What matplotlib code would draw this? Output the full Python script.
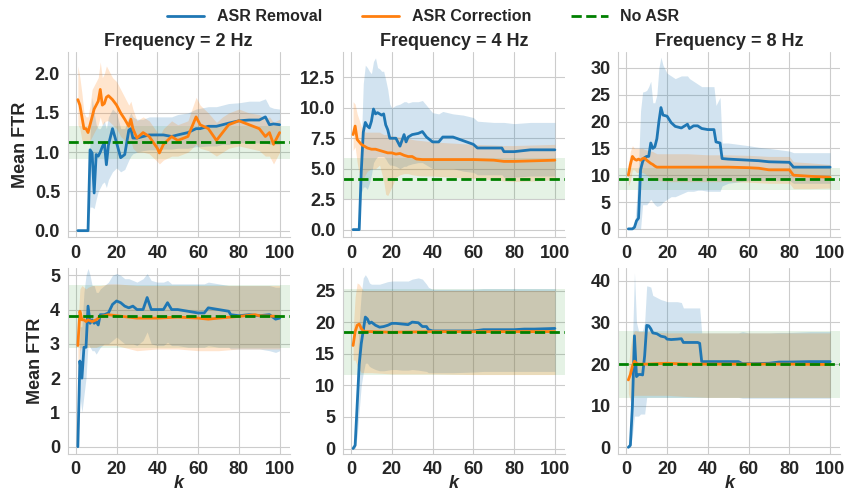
import numpy as np
import matplotlib
matplotlib.use("Agg")
import matplotlib.pyplot as plt
import seaborn as sns

sns.set_style("whitegrid")
plt.rcParams['font.family'] = ['Liberation Sans', 'DejaVu Sans']

# ── data ──────────────────────────────────────────────────────────────────────
titles = ["Frequency = 2 Hz", "Frequency = 4 Hz", "Frequency = 8 Hz"]
series_names = ["ASR Removal", "ASR Correction", "No ASR"]

# row 1, 2 Hz
k_rem_a = [1, 2, 3, 4, 5, 6, 7, 8, 9, 10, 11, 12, 13, 14, 15, 16, 18, 20, 22, 24, 26, 27, 28, 30, 33, 36,
           40, 43, 47, 50, 55, 59, 61, 65, 69, 72, 75, 80, 85, 90, 93, 95, 97, 100]
rem_a = [0, 0, 0, 0, 0, 0, 1.03, 0.99, 0.48, 0.97, 0.95, 1.0, 1.07, 1.12, 0.84, 1.09, 1.3, 1.12, 0.93, 0.97,
         1.28, 1.3, 1.18, 1.18, 1.2, 1.22, 1.22, 1.22, 1.2, 1.22, 1.25, 1.3, 1.3, 1.33, 1.33, 1.35, 1.37, 1.4,
         1.41, 1.41, 1.45, 1.35, 1.36, 1.35]
rem_lo_a = [0, 0, 0, 0, 0, 0, 0.3, 0.3, 0.28, 0.4, 0.5, 0.55, 0.6, 0.62, 0.55, 0.65, 0.75, 0.8, 0.75, 0.78,
            0.9, 0.95, 0.98, 1.0, 1.02, 1.03, 1.03, 1.04, 1.04, 1.05, 1.05, 1.07, 1.07, 1.08, 1.08, 1.1, 1.1,
            1.12, 1.12, 1.12, 1.12, 1.1, 1.1, 1.1]
rem_hi_a = [0, 0, 0, 0, 0, 0, 1.2, 1.7, 1.5, 1.35, 1.3, 1.3, 1.35, 1.4, 1.3, 1.45, 1.55, 1.5, 1.3, 1.3,
            1.45, 1.5, 1.45, 1.42, 1.42, 1.45, 1.45, 1.45, 1.45, 1.48, 1.5, 1.55, 1.56, 1.58, 1.58, 1.6, 1.62,
            1.63, 1.65, 1.65, 1.68, 1.58, 1.56, 1.55]
k_cor_a = [1, 2, 3, 4, 5, 6, 7, 8, 9, 10, 11, 12, 13, 14, 15, 16, 18, 20, 22, 24, 26, 27, 28, 30, 33, 36,
           40, 41, 43, 47, 50, 55, 59, 61, 65, 69, 72, 75, 80, 85, 90, 93, 95, 97, 100]
cor_a = [1.67, 1.6, 1.45, 1.3, 1.3, 1.25, 1.35, 1.45, 1.55, 1.6, 1.65, 1.8, 1.6, 1.62, 1.7, 1.72, 1.67, 1.6,
         1.5, 1.42, 1.33, 1.42, 1.3, 1.18, 1.25, 1.2, 1.05, 0.99, 1.1, 1.2, 1.15, 1.2, 1.45, 1.35, 1.3, 1.15,
         1.25, 1.35, 1.4, 1.35, 1.3, 1.2, 1.25, 1.1, 1.25]
cor_lo_a = [1.35, 1.3, 1.15, 1.1, 1.12, 1.1, 1.15, 1.2, 1.25, 1.3, 1.35, 1.45, 1.35, 1.38, 1.4, 1.4, 1.35,
            1.3, 1.2, 1.15, 1.1, 1.15, 1.05, 1.0, 1.0, 0.98, 0.88, 0.85, 0.9, 0.95, 0.95, 1.0, 1.1, 1.05,
            1.02, 0.95, 1.0, 1.05, 1.08, 1.05, 1.02, 0.95, 0.95, 0.85, 1.0]
cor_hi_a = [2.1, 1.95, 1.75, 1.5, 1.45, 1.45, 1.6, 1.8, 1.85, 1.9, 1.95, 2.15, 1.95, 2.0, 2.1, 2.05, 1.95,
            1.9, 1.8, 1.7, 1.6, 1.65, 1.55, 1.4, 1.45, 1.4, 1.25, 1.2, 1.3, 1.4, 1.35, 1.4, 1.7, 1.6, 1.5,
            1.38, 1.45, 1.5, 1.55, 1.5, 1.48, 1.42, 1.45, 1.38, 1.42]

# row 1, 4 Hz
k_rem_b = [1, 2, 3, 4, 5, 6, 7, 8, 9, 10, 11, 12, 13, 14, 15, 16, 17, 18, 19, 20, 22, 24, 26, 27, 28, 30,
           33, 35, 37, 40, 43, 45, 50, 55, 60, 62, 70, 74, 75, 80, 88, 100]
rem_b = [0, 0, 0, 0, 4.75, 8.0, 8.8, 8.5, 8.35, 8.9, 9.9, 9.5, 9.6, 9.5, 9.4, 9.5, 8.6, 8.2, 7.5, 7.5,
         7.5, 6.85, 7.8, 7.2, 7.6, 7.8, 7.9, 8.05, 7.6, 7.2, 7.2, 7.6, 7.6, 7.3, 7.0, 6.7, 6.7, 6.7, 6.4,
         6.4, 6.55, 6.55]
rem_lo_b = [0, 0, 0, 0, 3.0, 3.5, 3.5, 3.3, 3.8, 4.5, 5.5, 5.8, 6.0, 6.0, 6.0, 6.0, 5.8, 5.5, 5.3, 5.3,
            5.2, 5.0, 5.2, 5.2, 5.3, 5.4, 5.5, 5.5, 5.3, 5.0, 5.0, 5.0, 5.0, 4.8, 4.7, 4.5, 4.5, 4.5, 4.3,
            4.3, 4.4, 4.4]
rem_hi_b = [0, 0, 0, 0, 7.0, 12.0, 13.5, 13.3, 13.0, 12.8, 13.8, 14.1, 13.3, 13.2, 13.0, 13.0, 12.3,
            11.5, 10.3, 10.0, 10.2, 10.3, 10.5, 10.5, 10.4, 10.5, 10.5, 10.6, 10.2, 9.6, 9.5, 9.7, 9.5,
            9.4, 9.2, 8.9, 8.8, 8.8, 8.8, 8.7, 8.8, 8.8]
k_cor_b = [1, 2, 3, 4, 5, 6, 7, 8, 10, 12, 14, 16, 17, 18, 20, 22, 24, 26, 28, 30, 32, 35, 40, 50, 60,
           70, 75, 80, 90, 100]
cor_b = [7.8, 8.5, 7.4, 7.2, 7.0, 6.9, 6.8, 6.7, 6.6, 6.6, 6.5, 6.4, 6.35, 6.3, 6.3, 6.2, 6.25, 6.1, 6.0,
         6.0, 5.8, 5.75, 5.75, 5.75, 5.75, 5.7, 5.6, 5.6, 5.65, 5.7]
cor_lo_b = [6.5, 6.8, 5.5, 4.5, 4.0, 4.2, 4.5, 4.8, 5.0, 5.0, 5.3, 4.0, 2.9, 2.8, 3.5, 4.3, 4.5, 4.6,
            4.6, 4.5, 4.45, 4.4, 4.4, 4.3, 4.2, 4.1, 4.0, 3.95, 4.0, 4.1]
cor_hi_b = [10.5, 10.3, 9.5, 9.0, 8.5, 8.3, 8.0, 8.0, 8.0, 8.0, 8.0, 7.8, 7.8, 7.8, 7.7, 7.65, 7.6, 7.55,
            7.5, 7.4, 7.35, 7.3, 7.2, 7.1, 7.0, 6.95, 6.9, 6.9, 6.95, 7.0]

# row 1, 8 Hz
k_rem_c = [1, 2, 3, 4, 5, 6, 7, 8, 9, 10, 11, 12, 13, 14, 15, 16, 17, 18, 20, 22, 24, 27, 30, 31, 33, 35,
           37, 40, 43, 44, 46, 47, 50, 60, 65, 70, 80, 82, 90, 100]
rem_c = [0, 0, 0, 0.3, 1.5, 2.0, 11.0, 12.5, 13.3, 13.5, 13.5, 16.0, 15.0, 15.3, 16.8, 20.0, 22.6, 21.2,
         21.0, 19.8, 19.1, 18.8, 19.5, 18.7, 19.2, 19.2, 18.7, 18.5, 18.5, 16.2, 16.0, 13.1, 13.0, 12.8,
         12.7, 12.5, 12.4, 11.5, 11.5, 11.5]
rem_lo_c = [0, 0, 0, 0, 0, 0, 0, 4.5, 4.5, 4.5, 5.0, 5.5, 5.0, 4.5, 4.2, 4.3, 4.5, 5.0, 5.5, 6.0, 6.0,
            6.5, 7.0, 7.0, 7.0, 7.2, 7.2, 7.0, 7.0, 7.0, 7.0, 8.0, 8.5, 9.0, 9.0, 9.0, 9.0, 8.5, 8.5, 8.5]
rem_hi_c = [0, 0, 0, 0.3, 5.0, 12.0, 22.0, 25.5, 25.6, 25.8, 26.5, 27.5, 23.5, 23.5, 25.0, 30.0, 32.0,
            30.5, 29.0, 28.5, 28.0, 28.5, 28.5, 28.0, 27.5, 27.0, 26.5, 26.5, 26.5, 23.0, 24.5, 16.0, 16.0,
            15.5, 15.2, 15.0, 14.5, 14.2, 14.2, 14.2]
k_cor_c = [1, 2, 3, 4, 5, 6, 7, 8, 9, 10, 11, 12, 13, 14, 15, 16, 18, 20, 30, 40, 50, 60, 65, 70, 80, 82,
           90, 100]
cor_c = [10.0, 12.0, 13.5, 13.0, 12.8, 13.0, 12.8, 13.1, 13.2, 12.8, 12.5, 12.2, 12.0, 11.7, 11.5, 11.5,
         11.5, 11.5, 11.5, 11.5, 11.5, 11.4, 11.3, 11.0, 11.0, 10.0, 9.8, 9.6]
cor_lo_c = [8.0, 9.0, 11.0, 11.0, 10.5, 10.5, 10.5, 10.5, 10.3, 10.0, 9.8, 9.5, 9.4, 9.2, 9.0, 9.0, 8.9,
            8.8, 8.8, 8.8, 8.8, 8.7, 8.6, 8.5, 8.5, 7.5, 7.5, 7.6]
cor_hi_c = [12.0, 14.5, 15.5, 15.0, 15.0, 15.0, 15.0, 15.0, 14.8, 14.7, 14.6, 14.5, 14.4, 14.2, 14.0,
            14.0, 14.0, 14.0, 14.0, 13.8, 13.8, 13.7, 13.6, 13.5, 13.5, 12.5, 12.3, 12.0]

# row 2, 2 Hz
k_rem_d = [1, 2, 3, 4, 5, 6, 7, 8, 9, 10, 11, 12, 14, 16, 18, 20, 22, 24, 26, 28, 30, 33, 35, 37, 40, 43,
           45, 47, 50, 55, 60, 63, 65, 70, 75, 76, 80, 85, 90, 95, 98, 100]
rem_d = [0, 2.5, 2.0, 2.9, 2.9, 4.1, 3.6, 3.7, 3.6, 3.65, 3.55, 3.85, 3.85, 3.9, 4.15, 4.25, 4.2, 4.1,
         4.05, 4.1, 4.0, 4.0, 4.35, 4.0, 4.0, 4.0, 4.2, 4.0, 4.0, 3.95, 3.9, 3.9, 4.05, 4.0, 3.95, 3.85,
         3.82, 3.85, 3.82, 3.85, 3.72, 3.75]
rem_lo_d = [0, 1.5, 1.0, 1.5, 2.0, 3.0, 2.9, 2.8, 2.8, 2.7, 2.8, 2.9, 3.0, 3.0, 3.1, 3.2, 3.1, 3.0, 3.0,
            3.0, 2.95, 3.1, 3.35, 3.0, 2.95, 2.95, 3.05, 2.95, 2.95, 2.9, 2.9, 2.9, 2.95, 2.9, 2.9, 2.85,
            2.85, 2.85, 2.85, 2.8, 2.75, 2.8]
rem_hi_d = [0, 3.5, 3.5, 4.5, 5.0, 5.2, 5.0, 4.7, 4.7, 4.5, 4.5, 4.6, 4.7, 4.8, 5.0, 5.05, 5.0, 4.9, 4.9,
            4.85, 4.8, 4.9, 5.05, 4.85, 4.8, 4.8, 4.85, 4.75, 4.75, 4.75, 4.75, 4.75, 4.8, 4.75, 4.7, 4.7,
            4.7, 4.7, 4.7, 4.7, 4.65, 4.65]
k_cor_d = [1, 2, 3, 4, 5, 6, 8, 10, 12, 14, 16, 20, 30, 40, 50, 60, 65, 70, 80, 88, 90, 100]
cor_d = [2.95, 3.95, 3.7, 3.7, 3.65, 3.7, 3.65, 3.7, 3.8, 3.82, 3.85, 3.82, 3.75, 3.75, 3.78, 3.75, 3.72,
         3.75, 3.8, 3.85, 3.82, 3.8]
cor_lo_d = [2.0, 2.8, 2.9, 2.9, 2.9, 2.9, 2.9, 2.9, 2.95, 2.95, 2.95, 2.95, 2.8, 2.85, 2.85, 2.8, 2.8,
            2.8, 2.85, 2.85, 2.85, 2.85]
cor_hi_d = [3.5, 4.6, 4.7, 4.65, 4.6, 4.65, 4.7, 4.7, 4.7, 4.72, 4.75, 4.75, 4.7, 4.7, 4.7, 4.7, 4.7,
            4.7, 4.7, 4.7, 4.7, 4.7]

# row 2, 4 Hz
k_rem_e = [1, 2, 3, 4, 5, 6, 7, 8, 9, 10, 12, 14, 16, 18, 20, 22, 25, 28, 30, 33, 35, 37, 38, 40, 50, 60,
           65, 70, 80, 85, 90, 100]
rem_e = [0, 0.5, 6.9, 13.3, 16.6, 18.7, 20.8, 20.5, 19.8, 20.0, 19.5, 19.2, 19.3, 19.5, 19.8, 19.8, 19.7,
         19.6, 20.0, 19.9, 19.3, 19.3, 18.8, 18.6, 18.6, 18.6, 18.8, 18.8, 18.8, 18.9, 18.9, 19.0]
rem_lo_e = [0, 0, 2.0, 6.0, 10.0, 12.0, 13.5, 13.5, 13.0, 12.8, 12.5, 12.3, 12.3, 12.4, 12.5, 12.5,
            12.4, 12.4, 12.5, 12.4, 12.3, 12.2, 12.0, 12.0, 12.0, 12.1, 12.2, 12.2, 12.2, 12.2, 12.2, 12.2]
rem_hi_e = [0, 1.0, 12.0, 20.0, 24.5, 27.0, 27.5, 27.0, 26.2, 26.0, 26.0, 26.0, 26.2, 26.4, 26.5, 26.5,
            26.5, 26.5, 26.8, 27.0, 26.8, 26.0, 25.5, 25.2, 25.2, 25.2, 25.3, 25.3, 25.3, 25.3, 25.3, 25.3]
k_cor_e = [1, 2, 3, 4, 5, 6, 7, 10, 20, 40, 60, 80, 100]
cor_e = [16.3, 18.5, 19.5, 19.7, 19.0, 18.6, 18.5, 18.5, 18.4, 18.5, 18.5, 18.5, 18.5]
cor_lo_e = [14.0, 14.0, 13.0, 12.5, 12.0, 12.0, 12.0, 12.0, 11.8, 11.8, 11.7, 11.7, 11.7]
cor_hi_e = [18.5, 24.0, 26.2, 26.0, 25.5, 25.0, 25.0, 25.0, 25.0, 25.0, 25.0, 25.0, 25.0]

# row 2, 8 Hz
k_rem_f = [1, 2, 3, 4, 5, 6, 7, 8, 9, 10, 11, 12, 13, 15, 17, 19, 20, 22, 25, 27, 28, 30, 33, 35, 36, 37,
           40, 45, 50, 55, 57, 60, 70, 75, 80, 90, 100]
rem_f = [0, 0.5, 10.0, 26.8, 17.0, 17.5, 17.5, 17.4, 22.0, 29.3, 29.2, 28.5, 27.5, 27.3, 26.7, 26.5,
         26.0, 25.9, 26.0, 26.1, 25.2, 25.2, 25.2, 25.2, 25.0, 20.6, 20.6, 20.6, 20.6, 20.6, 20.1, 20.1,
         20.2, 20.5, 20.5, 20.6, 20.6]
rem_lo_f = [0, 0, 3.0, 7.5, 7.5, 7.5, 8.0, 8.0, 8.0, 12.0, 12.0, 12.0, 12.0, 12.0, 12.0, 12.0, 12.0,
            12.0, 12.0, 12.0, 12.0, 12.0, 12.0, 12.0, 12.0, 12.0, 12.0, 12.0, 12.0, 12.0, 11.8, 11.8,
            11.8, 11.8, 11.8, 11.8, 11.8]
rem_hi_f = [0, 1.0, 25.0, 42.0, 30.0, 28.0, 28.0, 28.0, 30.0, 38.8, 38.7, 38.5, 36.5, 36.0, 35.5, 35.2,
            35.0, 35.0, 35.0, 34.8, 33.5, 33.5, 33.5, 33.5, 33.5, 27.5, 27.5, 27.5, 27.5, 27.5, 27.8,
            27.5, 27.5, 27.6, 27.6, 27.8, 27.8]
k_cor_f = [1, 2, 3, 4, 5, 6, 10, 20, 30, 40, 60, 80, 100]
cor_f = [16.2, 17.5, 19.5, 20.7, 20.2, 20.0, 20.0, 20.2, 20.0, 20.0, 20.0, 20.0, 19.9]
cor_lo_f = [13.0, 11.0, 12.0, 12.5, 12.5, 12.5, 12.5, 12.5, 12.2, 12.0, 12.0, 12.0, 12.0]
cor_hi_f = [19.0, 24.0, 27.0, 28.0, 28.0, 27.8, 27.8, 27.5, 27.5, 27.5, 27.5, 27.5, 27.5]

# No ASR baseline: mean and band, panels a..f
no_asr = [1.13, 4.15, 9.3, 3.8, 18.5, 20.0]
no_asr_lo = [0.91, 2.5, 7.3, 2.88, 11.7, 11.9]
no_asr_hi = [1.33, 5.85, 11.3, 4.72, 25.2, 27.9]

yticks = [[0.0, 0.5, 1.0, 1.5, 2.0],
          [0.0, 2.5, 5.0, 7.5, 10.0, 12.5],
          [0, 5, 10, 15, 20, 25, 30],
          [0, 1, 2, 3, 4, 5],
          [0, 5, 10, 15, 20, 25],
          [0, 10, 20, 30, 40]]
ytick_fmt = ["{:.1f}", "{:.1f}", "{:d}", "{:d}", "{:d}", "{:d}"]

panels = [
    (k_rem_a, rem_a, rem_lo_a, rem_hi_a, k_cor_a, cor_a, cor_lo_a, cor_hi_a),
    (k_rem_b, rem_b, rem_lo_b, rem_hi_b, k_cor_b, cor_b, cor_lo_b, cor_hi_b),
    (k_rem_c, rem_c, rem_lo_c, rem_hi_c, k_cor_c, cor_c, cor_lo_c, cor_hi_c),
    (k_rem_d, rem_d, rem_lo_d, rem_hi_d, k_cor_d, cor_d, cor_lo_d, cor_hi_d),
    (k_rem_e, rem_e, rem_lo_e, rem_hi_e, k_cor_e, cor_e, cor_lo_e, cor_hi_e),
    (k_rem_f, rem_f, rem_lo_f, rem_hi_f, k_cor_f, cor_f, cor_lo_f, cor_hi_f),
]

BLUE, ORANGE, GREEN = "#1f77b4", "#ff7f0e", "green"

# ── figure ───────────────────────────────────────────────────────────────────
fig, axes = plt.subplots(2, 3, figsize=(8.47, 4.93), dpi=100)
fig.subplots_adjust(left=0.08, right=0.992, top=0.895, bottom=0.08, wspace=0.24, hspace=0.17)

for i, ax in enumerate(axes.flat):
    kr, r, rlo, rhi, kc, c, clo, chi = panels[i]
    ax.axhspan(no_asr_lo[i], no_asr_hi[i], color=GREEN, alpha=0.1, lw=0)
    ax.fill_between(kr, rlo, rhi, color=BLUE, alpha=0.2, lw=0)
    ax.fill_between(kc, clo, chi, color=ORANGE, alpha=0.2, lw=0)
    l1, = ax.plot(kr, r, color=BLUE, lw=2, label=series_names[0])
    l2, = ax.plot(kc, c, color=ORANGE, lw=2, label=series_names[1])
    l3 = ax.axhline(no_asr[i], color=GREEN, ls="--", lw=2, label=series_names[2])

    ax.set_xticks([0, 20, 40, 60, 80, 100])
    ax.set_yticks(yticks[i])
    ax.set_yticklabels([ytick_fmt[i].format(v) for v in yticks[i]])
    ax.tick_params(labelsize=13, pad=2)
    for lab in ax.get_xticklabels() + ax.get_yticklabels():
        lab.set_fontweight("bold")
        lab.set_color("#262626")
    sns.despine(ax=ax)
    for s in ["left", "bottom"]:
        ax.spines[s].set_color("#cccccc")

    if i < 3:
        ax.set_title(titles[i], fontsize=13, fontweight="bold", pad=4, color="#262626")
    else:
        ax.set_xlabel("k", fontsize=13, fontweight="bold", style="italic",
                      labelpad=-2, color="#262626")
    if i % 3 == 0:
        ax.set_ylabel("Mean FTR", fontsize=13, fontweight="bold", color="#262626", labelpad=4)

axes[0, 0].set_ylim(-0.08, 2.28)
axes[0, 1].set_ylim(-0.6, 14.6)
axes[0, 2].set_ylim(-1.5, 33)
axes[1, 0].set_ylim(-0.2, 5.2)
axes[1, 1].set_ylim(-0.8, 28.5)
axes[1, 2].set_ylim(-1.5, 43)

fig.legend(handles=[l1, l2, l3], labels=series_names, loc="upper center", ncol=3,
           frameon=False, bbox_to_anchor=(0.5, 1.01), handlelength=2.3,
           columnspacing=2.5, prop={"weight": "bold", "size": 11.5})

fig.savefig("out.png", dpi=100)
